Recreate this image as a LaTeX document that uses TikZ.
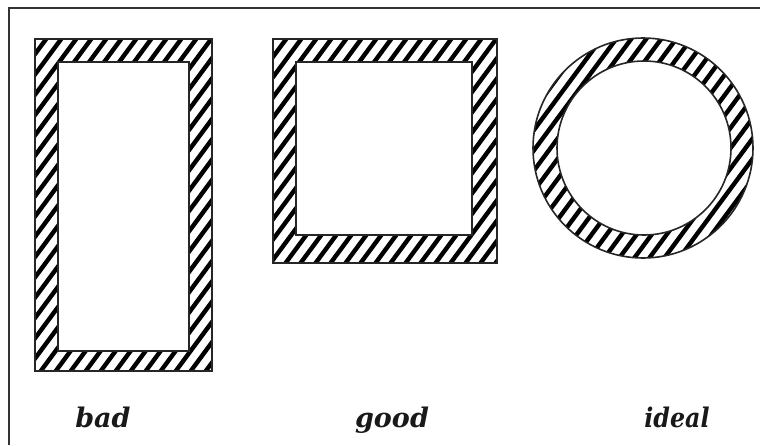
\documentclass[tikz,border=0pt]{standalone}
\usepackage{fontspec}
\setmainfont{DejaVu Serif}
\usetikzlibrary{positioning}

\tikzset{
  wall/.style={line width=1.6pt, draw=black!85},
  stripe/.style={line width=4.4pt, black},
  frameline/.style={line width=2pt, draw=black!80},
  caption/.style={font=\fontsize{27}{32}\selectfont\bfseries\itshape, anchor=base, text=black!90},
}
\newcommand{\hatchlines}{\foreach \i in {-400,-385,...,780} \draw[stripe] (\i,460) -- ++(340,-460);}

\begin{document}
\begin{tikzpicture}[x=1pt, y=-1pt]
\useasboundingbox (0,0) rectangle (760,445);
\draw[frameline] (9,445) -- (9,8) -- (760,8);

% tall rectangle
\begin{scope}[even odd rule]
  \clip (35,39) rectangle (212,371) (58,62) rectangle (189,351);
  \hatchlines
\end{scope}
\draw[wall] (35,39) rectangle (212,371) (58,62) rectangle (189,351);

% square
\begin{scope}[even odd rule]
  \clip (273,39) rectangle (497,263) (296,62) rectangle (472,235);
  \hatchlines
\end{scope}
\draw[wall] (273,39) rectangle (497,263) (296,62) rectangle (472,235);

% ring
\begin{scope}[even odd rule]
  \clip (643,148) circle[radius=110pt] (644,148) circle[radius=87pt];
  \hatchlines
\end{scope}
\draw[wall] (643,148) circle[radius=110pt] (644,148) circle[radius=87pt];

\node[caption] (bad) at (103,427) {bad};
\node[caption] (good) at (392,427) {good};
\node[caption, xscale=0.88] (ideal) at (677,427) {ideal};
\end{tikzpicture}
\end{document}
